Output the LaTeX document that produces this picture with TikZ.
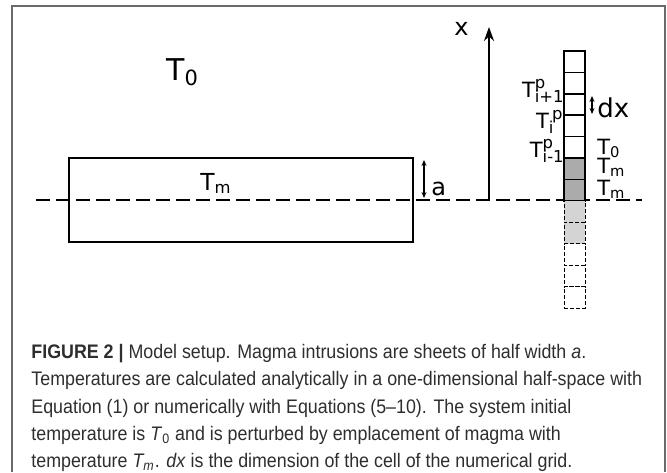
\documentclass[tikz,border=0pt]{standalone}
\usepackage{fontspec}
\setmainfont{DejaVu Sans}
\newfontfamily\capfont[FakeStretch=0.91]{Liberation Sans}
\usepackage{xcolor}
\usepackage{tikz}
\usetikzlibrary{arrows.meta, positioning}
\definecolor{FrameGray}{HTML}{6A6A6A}
\definecolor{CellDark}{HTML}{ABABAB}
\definecolor{CellLight}{HTML}{D4D4D4}
\definecolor{CapText}{HTML}{2E2E2E}
\newcommand{\supp}{\raisebox{4.5pt}{\fontsize{8.2}{8}\selectfont p}}
\newcommand{\subi}[1]{\raisebox{-2.6pt}{\fontsize{8.2}{8}\selectfont #1}}
\newcommand{\Tpi}[1]{T\makebox[0pt][l]{\supp}\subi{#1}}

\begin{document}
\begin{tikzpicture}[x=0.5pt, y=-0.5pt,
  frame/.style={draw=FrameGray, line width=1pt},
  midline/.style={line width=1pt, dash pattern=on 7pt off 3pt},
  sheet/.style={rectangle, draw, line width=1.3pt, minimum width=172pt,
    minimum height=42pt, inner sep=0pt},
  cell/.style={rectangle, draw, line width=0.8pt, minimum width=10.5pt,
    minimum height=10.71pt, inner sep=0pt, fill=white},
  ghost/.style={cell, line width=0.5pt, dash pattern=on 2pt off 1pt},
  lbl/.style={inner sep=0pt, anchor=base west, font=\fontsize{10.5}{12}\selectfont},
  dimarr/.style={{Stealth[length=3pt,width=2.5pt]}-{Stealth[length=3pt,width=2.5pt]}, line width=0.6pt},
  axis/.style={-{Stealth[length=7pt,width=5pt]}, line width=1pt}
]
\useasboundingbox (0,0) rectangle (667,472);
\draw[frame] (12,472) -- (12,6) -- (665,6) -- (665,472);

% intrusion sheet and symmetry line
\node[sheet] (sheet) at (241,200) {};
\coordinate (lineL) at (36,200);
\coordinate (lineR) at (642,200);
\draw[midline] (lineL) -- (lineR);
\node[lbl, font=\fontsize{11.7}{14}\selectfont] (Tm) at (200,190) {T\textsubscript{m}};
\node[lbl, font=\fontsize{15}{17}\selectfont] (T0) at (166,80) {T\textsubscript{0}};

% half width
\coordinate (aTop) at (424,160);
\coordinate (aBot) at (424,198);
\draw[dimarr] (aTop) -- (aBot);
\node[lbl, font=\fontsize{12}{14}\selectfont] (a) at (431,195) {a};

% x axis
\coordinate (origin) at (489,200);
\coordinate (xTip) at (489,27);
\draw[axis] (origin) -- (xTip);
\node[lbl, font=\fontsize{12}{13}\selectfont] (xlbl) at (454,35) {x};

% numerical grid
\foreach \i in {1,...,7}{
  \node[cell] (c\i) at (574.5,{51+21.42*(\i-0.5)}) {};
}
\node[cell, fill=CellDark] at (c6) {};
\node[cell, fill=CellDark] at (c7) {};
\foreach \i in {8,...,12}{
  \node[ghost] (c\i) at (574.5,{51+21.42*(\i-0.5)}) {};
}
\node[ghost, fill=CellLight] at (c8) {};
\node[ghost, fill=CellLight] at (c9) {};

\node[lbl, anchor=base east] (Tup) at (564,97) {\Tpi{i+1}};
\node[lbl, anchor=base east] (Tmid) at (563,128) {T\subi{i}\kern-0.6pt\supp};
\node[lbl, anchor=base east] (Tlow) at (564,157) {\Tpi{i-1}};

\coordinate (dxTop) at (592,96);
\coordinate (dxBot) at (592,114);
\draw[dimarr] (dxTop) -- (dxBot);
\node[lbl, font=\fontsize{13}{15}\selectfont] (dx) at (597,117) {dx};
\node[lbl] (Tc5) at (597,154) {T\textsubscript{0}};
\node[lbl] (Tc6) at (597,173) {T\textsubscript{m}};
\node[lbl] (Tc7) at (597,195) {T\textsubscript{m}};

% caption
\node[anchor=north west, inner sep=0pt, align=left, text=CapText,
  font=\capfont\fontsize{9.8}{13.6}\selectfont] (caption) at (31,344)
{\textbf{FIGURE 2 |} Model setup. Magma intrusions are sheets of half width \textit{a}.\\
Temperatures are calculated analytically in a one-dimensional half-space with\\
Equation (1) or numerically with Equations (5–10). The system initial\\
temperature is \textit{T}\textsubscript{0} and is perturbed by emplacement of magma with\\
temperature \textit{T\textsubscript{m}}. \textit{dx} is the dimension of the cell of the numerical grid.};
\end{tikzpicture}
\end{document}
